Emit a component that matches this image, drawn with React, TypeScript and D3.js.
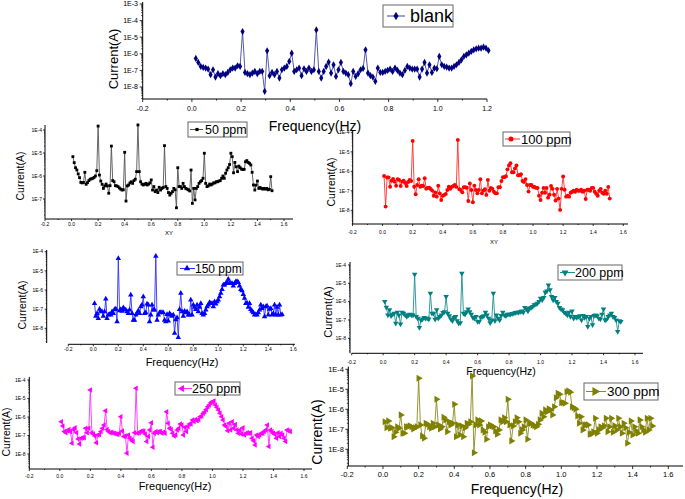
import React from "react";
import * as d3 from "d3";

const FONT = "'Liberation Sans', Arial, Helvetica, sans-serif";

// log10 of current (A), one point every 0.01 Hz
const blankFreqStart = 0.016;
const ppmFreqStart = 0.01;

const blankLogCurrent = [
  -6.28, -6.52, -6.76, -6.82, -6.86, -6.92, -7.26, -6.96, -7.4, -7.2,
  -7.32, -7.2, -7.26, -7.12, -6.96, -6.86, -6.86, -6.72, -6.76, -4.66,
  -7.12, -7.2, -7.26, -7.16, -7.06, -7.2, -7.06, -7.06, -8.26, -5.82,
  -7.32, -7.12, -7.26, -7.06, -7.46, -6.96, -6.86, -6.76, -6.46, -5.96,
  -7.06, -6.96, -6.86, -7.32, -6.9, -7.06, -6.86, -7.06, -6.96, -4.56,
  -7.06, -7.46, -7.06, -6.76, -6.5, -7.16, -6.66, -7.36, -6.96, -6.52,
  -7.06, -7.16, -7.26, -7.8, -7.06, -7.36, -7.2, -6.96, -6.88, -5.76,
  -7.16, -7.32, -7.4, -7.66, -6.86, -7.12, -7.12, -7.06, -7.0, -6.92,
  -7.06, -6.86, -7.0, -7.16, -7.26, -7.0, -6.76, -6.86, -6.92, -6.92,
  -6.92, -7.4, -6.92, -6.52, -7.16, -6.66, -7.12, -6.86, -6.9, -6.16,
  -6.66, -6.76, -6.8, -6.86, -6.86, -6.76, -6.66, -6.52, -6.36, -6.16,
  -6.06, -5.96, -5.86, -5.76, -5.7, -5.66, -5.66, -5.6, -5.66, -5.8,
];

const ppm50LogCurrent = [
  -5.16, -5.42, -5.64, -5.74, -5.91, -6.07, -6.28, -6.3, -6.28, -5.84,
  -6.36, -6.29, -6.2, -6.14, -6.12, -6.1, -6.06, -6.0, -5.77, -3.83,
  -5.96, -6.22, -6.36, -6.54, -6.43, -6.35, -6.43, -6.75, -6.42, -4.7,
  -6.2, -6.25, -6.42, -6.43, -6.46, -6.52, -6.57, -6.61, -6.6, -4.97,
  -7.09, -6.43, -6.39, -6.3, -6.25, -6.32, -6.2, -6.14, -5.81, -3.78,
  -5.81, -6.25, -6.35, -6.39, -6.36, -6.32, -6.39, -6.35, -6.3, -6.17,
  -6.61, -6.46, -6.68, -6.61, -6.72, -6.49, -6.61, -6.54, -6.5, -4.68,
  -6.46, -6.54, -6.72, -6.83, -6.75, -6.68, -6.54, -6.6, -7.38, -5.64,
  -6.46, -6.46, -6.54, -6.32, -6.46, -6.54, -6.57, -6.6, -6.65, -5.74,
  -7.19, -6.54, -7.04, -6.54, -6.46, -6.32, -6.25, -6.2, -6.1, -5.01,
  -6.32, -6.46, -6.43, -6.35, -6.39, -6.35, -6.3, -6.3, -6.25, -6.25,
  -6.22, -6.2, -6.1, -6.0, -6.1, -5.88, -5.74, -5.64, -5.5, -5.01,
  -5.16, -5.86, -5.41, -5.6, -5.81, -5.57, -5.64, -5.7, -5.72, -5.71,
  -5.38, -5.33, -5.41, -5.45, -5.52, -5.84, -6.39, -6.61, -6.4, -6.22,
  -6.54, -6.5, -6.54, -6.57, -6.54, -6.57, -6.54, -6.6, -6.58, -6.03,
  -6.64,
];

const ppm100LogCurrent = [
  -6.24, -7.81, -6.32, -6.31, -6.79, -6.48, -6.39, -6.53, -6.74, -6.41,
  -6.44, -6.75, -6.53, -6.48, -6.6, -6.75, -6.55, -6.45, -6.5, -4.44,
  -6.79, -7.18, -6.7, -6.41, -6.79, -6.74, -6.75, -6.36, -6.89, -6.86,
  -6.84, -6.91, -6.99, -7.25, -7.09, -7.3, -6.74, -7.13, -7.47, -7.25,
  -7.21, -7.16, -6.96, -6.79, -6.9, -6.8, -6.75, -6.7, -6.8, -4.39,
  -6.92, -6.96, -7.08, -6.82, -6.82, -6.84, -7.52, -6.62, -6.96, -7.59,
  -6.74, -6.96, -7.13, -6.96, -6.41, -7.13, -6.99, -6.92, -7.21, -6.44,
  -7.0, -6.85, -6.9, -7.05, -7.13, -7.13, -6.82, -6.82, -6.5, -6.3,
  -6.3, -6.25, -5.9, -5.7, -5.59, -6.05, -6.05, -5.85, -5.7, -6.2,
  -6.2, -6.15, -6.5, -6.55, -6.4, -6.7, -7.04, -6.7, -6.7, -6.8,
  -6.8, -6.85, -6.85, -7.25, -7.47, -7.1, -6.85, -7.1, -6.85, -7.35,
  -7.2, -6.75, -6.9, -7.2, -7.5, -6.9, -7.4, -7.98, -6.9, -6.27,
  -6.95, -7.3, -7.25, -7.3, -7.1, -7.05, -7.0, -7.05, -6.95, -7.0,
  -7.0, -6.95, -7.05, -7.0, -7.42, -6.95, -6.95, -7.0, -6.85, -6.85,
  -7.05, -7.15, -7.25, -7.0, -6.9, -7.1, -7.15, -7.0, -7.15, -6.8,
  -7.4,
];

const ppm150LogCurrent = [
  -6.7, -7.36, -7.22, -7.48, -7.0, -7.1, -7.13, -7.36, -7.13, -6.47,
  -7.48, -7.3, -7.27, -7.3, -7.13, -7.22, -7.01, -6.99, -7.65, -4.35,
  -7.08, -7.01, -7.1, -6.92, -7.01, -7.04, -7.13, -7.22, -7.04, -6.26,
  -7.22, -7.57, -7.57, -7.3, -7.22, -7.08, -7.22, -6.87, -6.78, -6.35,
  -7.22, -7.18, -6.73, -6.78, -7.65, -7.3, -6.78, -7.04, -7.04, -4.23,
  -7.57, -7.3, -7.18, -7.17, -7.17, -7.18, -7.57, -7.65, -7.27, -7.62,
  -7.22, -7.3, -7.36, -7.3, -8.26, -7.55, -7.45, -8.47, -7.01, -6.17,
  -7.13, -7.36, -7.1, -7.18, -7.13, -7.3, -7.3, -6.52, -7.3, -6.78,
  -6.9, -7.01, -6.78, -7.13, -6.9, -6.7, -7.22, -7.3, -7.22, -7.04,
  -6.87, -6.78, -6.65, -6.7, -6.7, -6.87, -6.61, -6.73, -6.61, -6.52,
  -6.35, -6.17, -5.97, -5.74, -5.74, -5.65, -5.6, -5.44, -5.65, -5.65,
  -5.65, -5.79, -5.65, -5.57, -5.55, -5.6, -5.79, -5.97, -6.03, -6.23,
  -6.43, -6.7, -6.67, -6.9, -6.7, -7.01, -7.1, -7.18, -7.3, -7.27,
  -7.3, -7.18, -7.04, -6.78, -6.96, -6.87, -7.39, -6.87, -6.83, -7.3,
  -7.0, -6.96, -7.3, -7.22, -6.78, -7.3, -6.9, -7.3, -6.78, -7.3,
  -7.27,
];

const ppm200LogCurrent = [
  -6.0, -6.31, -6.73, -6.45, -6.78, -6.69, -6.64, -7.18, -6.58, -6.73,
  -7.22, -6.58, -6.64, -6.73, -6.82, -6.73, -6.69, -6.73, -6.73, -4.51,
  -6.82, -6.91, -7.42, -7.0, -6.95, -6.87, -6.91, -6.91, -6.95, -5.55,
  -6.64, -6.64, -6.96, -6.45, -6.91, -6.82, -6.73, -6.6, -6.55, -5.73,
  -6.64, -6.78, -6.95, -7.05, -6.87, -6.82, -7.04, -7.18, -7.15, -4.45,
  -6.64, -6.69, -6.55, -6.4, -6.55, -6.69, -6.87, -6.91, -6.82, -7.09,
  -7.09, -6.87, -6.82, -6.78, -6.58, -6.73, -6.91, -7.15, -7.0, -5.55,
  -7.05, -6.73, -6.91, -7.0, -6.76, -6.58, -6.73, -6.78, -6.69, -6.69,
  -6.69, -6.65, -6.64, -6.6, -6.58, -6.58, -6.55, -6.51, -6.58, -6.33,
  -6.4, -6.51, -6.36, -6.33, -6.27, -6.18, -6.15, -6.09, -6.0, -5.82,
  -5.91, -5.78, -5.49, -5.42, -5.09, -5.36, -5.73, -5.91, -5.78, -6.0,
  -6.09, -6.33, -6.4, -6.45, -6.58, -6.64, -6.73, -6.58, -6.82, -6.51,
  -6.91, -6.82, -6.87, -6.82, -6.78, -7.0, -6.76, -6.87, -6.82, -7.36,
  -6.91, -6.82, -7.27, -6.76, -6.73, -6.78, -6.91, -6.95, -6.69, -6.4,
  -7.0, -6.96, -6.82, -6.73, -6.64, -6.82, -6.87, -7.0, -7.64, -7.04,
  -7.09,
];

const ppm250LogCurrent = [
  -6.25, -6.49, -6.79, -6.85, -6.74, -6.67, -6.79, -7.42, -6.67, -6.58,
  -6.85, -7.19, -7.46, -7.15, -7.12, -7.12, -6.61, -6.85, -6.61, -4.54,
  -6.85, -6.92, -7.03, -7.39, -6.97, -6.94, -6.79, -6.61, -6.43, -5.66,
  -6.67, -6.79, -6.85, -6.83, -6.88, -6.88, -6.92, -6.94, -6.88, -5.98,
  -6.76, -7.06, -7.03, -7.96, -6.97, -7.15, -7.24, -7.33, -6.85, -4.45,
  -6.88, -6.85, -6.79, -6.76, -6.76, -6.92, -7.33, -7.06, -6.7, -6.31,
  -7.64, -6.88, -6.79, -6.85, -6.79, -6.79, -6.88, -6.83, -6.88, -5.71,
  -6.34, -6.61, -6.67, -6.88, -7.03, -6.97, -6.7, -6.61, -6.38, -6.43,
  -6.97, -6.56, -6.79, -6.52, -6.38, -6.38, -6.16, -6.25, -6.13, -6.2,
  -6.13, -5.98, -5.95, -5.8, -5.71, -5.59, -5.44, -5.35, -5.23, -5.17,
  -5.14, -5.35, -5.48, -5.62, -5.8, -5.98, -6.16, -6.43, -6.52, -6.74,
  -6.34, -6.7, -6.25, -6.61, -6.4, -6.7, -6.88, -6.7, -6.92, -6.58,
  -6.97, -6.88, -6.85, -6.88, -6.85, -7.15, -7.28, -7.51, -6.97, -7.06,
  -6.97, -6.88, -6.88, -6.79, -6.7, -6.43, -7.6, -6.7, -6.79, -6.88,
  -6.94, -7.15, -6.85, -7.06, -6.88, -6.97, -7.15, -7.33, -6.7, -6.74,
  -6.79,
];

const ppm300LogCurrent = [
  -6.62, -6.92, -6.58, -6.95, -6.92, -7.37, -7.15, -6.87, -6.95, -6.28,
  -7.2, -7.2, -6.87, -6.87, -6.82, -6.87, -6.98, -6.92, -6.87, -4.45,
  -6.78, -7.33, -7.45, -6.7, -6.75, -6.87, -6.95, -6.7, -6.87, -5.5,
  -6.78, -6.98, -6.87, -6.4, -6.53, -7.12, -6.62, -6.78, -6.7, -5.75,
  -7.37, -6.78, -7.28, -6.83, -7.37, -6.92, -6.7, -6.75, -6.62, -4.33,
  -8.17, -6.78, -6.53, -6.78, -6.58, -7.03, -7.15, -7.5, -6.87, -6.78,
  -6.83, -6.87, -7.08, -7.25, -7.03, -6.53, -6.62, -6.42, -6.62, -5.5,
  -6.78, -7.58, -6.83, -6.62, -6.42, -6.62, -7.2, -7.03, -6.87, -6.53,
  -7.5, -6.7, -6.7, -6.78, -6.82, -6.87, -6.75, -6.53, -6.2, -6.37,
  -6.03, -6.12, -5.98, -6.03, -6.28, -5.87, -5.42, -5.2, -5.25, -5.67,
  -5.67, -5.7, -5.12, -5.08, -5.15, -5.87, -5.92, -6.0, -6.33, -6.7,
  -6.37, -7.03, -6.78, -6.78, -6.78, -7.25, -7.23, -7.12, -6.45, -7.2,
  -7.03, -6.87, -6.92, -6.82, -6.45, -7.12, -6.87, -6.45, -7.15, -6.82,
  -7.03, -6.45, -6.87, -7.2, -6.7, -6.92, -7.7, -7.15, -6.58, -7.28,
  -6.87, -7.08, -7.2, -6.53, -6.87, -7.03, -7.15, -6.45, -7.03, -6.45,
  -6.83,
];

type Marker = "diamond" | "square" | "circle" | "up" | "down" | "left" | "right";

interface PanelCfg {
  label: string;
  logCurrent: number[];
  freqStart: number;
  color: string;
  lineColor: string;
  marker: Marker;
  markerSize: number;
  xDomainMax: number;
  xPxMin: number;
  xPxMax: number;
  xAxisStart: number;
  xAxisEnd: number;
  xAxisY: number;
  yAxisX: number;
  yAxisTop: number;
  yAxisBottom: number;
  yHiExp: number;
  yHiPx: number;
  y8Px: number;
  tickFont: number;
  yTickRight: number;
  xTickBaseline: number;
  majorTick: number;
  minorTick: number;
  xTitle: string;
  xTitleX: number;
  xTitleY: number;
  xTitleSize: number;
  yTitleX: number;
  yTitleY: number;
  yTitleSize: number;
  lg: { x: number; y: number; w: number; h: number; font: number; lx1: number; lx2: number; mx: number; tx: number; ms: number };
}

const panels: PanelCfg[] = [
  {
    label: "blank", logCurrent: blankLogCurrent, freqStart: blankFreqStart,
    color: "#000080", lineColor: "#4646a0", marker: "diamond", markerSize: 15,
    xDomainMax: 1.2, xPxMin: 142.7, xPxMax: 487, xAxisStart: 142.7, xAxisEnd: 487, xAxisY: 99,
    yAxisX: 142.7, yAxisTop: 2, yAxisBottom: 99, yHiExp: -3, yHiPx: 4, y8Px: 87,
    tickFont: 7, yTickRight: 138, xTickBaseline: 110.5, majorTick: 3, minorTick: 1.5,
    xTitle: "Frequency(Hz)", xTitleX: 315, xTitleY: 131, xTitleSize: 14,
    yTitleX: 118, yTitleY: 59, yTitleSize: 13,
    lg: { x: 383, y: 5, w: 70, h: 22, font: 18, lx1: 387, lx2: 405, mx: 396, tx: 410, ms: 22 },
  },
  {
    label: "50 ppm", logCurrent: ppm50LogCurrent, freqStart: ppmFreqStart,
    color: "#000000", lineColor: "#555555", marker: "square", markerSize: 8,
    xDomainMax: 1.6, xPxMin: 45, xPxMax: 284, xAxisStart: 45, xAxisEnd: 293, xAxisY: 219,
    yAxisX: 45, yAxisTop: 125, yAxisBottom: 219, yHiExp: -4, yHiPx: 130, y8Px: 222,
    tickFont: 5, yTickRight: 42, xTickBaseline: 226, majorTick: 2, minorTick: 1,
    xTitle: "XY", xTitleX: 169, xTitleY: 235, xTitleSize: 6,
    yTitleX: 24, yTitleY: 176, yTitleSize: 10.5,
    lg: { x: 188, y: 122, w: 59, h: 15, font: 12.5, lx1: 190, lx2: 203, mx: 197, tx: 205, ms: 10 },
  },
  {
    label: "100 ppm", logCurrent: ppm100LogCurrent, freqStart: ppmFreqStart,
    color: "#ff0000", lineColor: "#ff3030", marker: "circle", markerSize: 12,
    xDomainMax: 1.6, xPxMin: 352.5, xPxMax: 623.3, xAxisStart: 352.5, xAxisEnd: 628, xAxisY: 224,
    yAxisX: 352.7, yAxisTop: 130, yAxisBottom: 224, yHiExp: -4, yHiPx: 132.3, y8Px: 210.3,
    tickFont: 5, yTickRight: 349.5, xTickBaseline: 234, majorTick: 2, minorTick: 1,
    xTitle: "XY", xTitleX: 494, xTitleY: 244, xTitleSize: 6,
    yTitleX: 335, yTitleY: 182, yTitleSize: 10.5,
    lg: { x: 503, y: 132, w: 67, h: 14, font: 13, lx1: 505, lx2: 520, mx: 511, tx: 521, ms: 20 },
  },
  {
    label: "150 ppm", logCurrent: ppm150LogCurrent, freqStart: ppmFreqStart,
    color: "#0000ff", lineColor: "#3030ff", marker: "up", markerSize: 13,
    xDomainMax: 1.6, xPxMin: 68.3, xPxMax: 293.3, xAxisStart: 68.3, xAxisEnd: 295, xAxisY: 344.3,
    yAxisX: 46.7, yAxisTop: 250, yAxisBottom: 343, yHiExp: -4, yHiPx: 251.7, y8Px: 328.3,
    tickFont: 5, yTickRight: 43, xTickBaseline: 351, majorTick: 2, minorTick: 1,
    xTitle: "Frequency(Hz)", xTitleX: 182, xTitleY: 366, xTitleSize: 11,
    yTitleX: 26, yTitleY: 305, yTitleSize: 10.5,
    lg: { x: 177, y: 262, w: 66, h: 13, font: 12, lx1: 180, lx2: 195, mx: 187, tx: 195, ms: 18 },
  },
  {
    label: "200 ppm", logCurrent: ppm200LogCurrent, freqStart: ppmFreqStart,
    color: "#008080", lineColor: "#209090", marker: "down", markerSize: 13,
    xDomainMax: 1.6, xPxMin: 351.7, xPxMax: 635, xAxisStart: 351.7, xAxisEnd: 643, xAxisY: 353.3,
    yAxisX: 350, yAxisTop: 262, yAxisBottom: 353.3, yHiExp: -4, yHiPx: 265, y8Px: 338.3,
    tickFont: 5, yTickRight: 346, xTickBaseline: 363.5, majorTick: 2, minorTick: 1,
    xTitle: "Frequency(Hz)", xTitleX: 501, xTitleY: 375, xTitleSize: 10.5,
    yTitleX: 332, yTitleY: 312, yTitleSize: 11,
    lg: { x: 558, y: 265, w: 64, h: 15, font: 12.5, lx1: 560, lx2: 575, mx: 565, tx: 575, ms: 20 },
  },
  {
    label: "250 ppm", logCurrent: ppm250LogCurrent, freqStart: ppmFreqStart,
    color: "#ff00ff", lineColor: "#ff30ff", marker: "left", markerSize: 13,
    xDomainMax: 1.6, xPxMin: 29.3, xPxMax: 304, xAxisStart: 29.3, xAxisEnd: 312, xAxisY: 469,
    yAxisX: 29.3, yAxisTop: 377, yAxisBottom: 469, yHiExp: -4, yHiPx: 380, y8Px: 454,
    tickFont: 5, yTickRight: 25.5, xTickBaseline: 478, majorTick: 2, minorTick: 1,
    xTitle: "Frequency(Hz)", xTitleX: 175, xTitleY: 490, xTitleSize: 11,
    yTitleX: 10, yTitleY: 432, yTitleSize: 10.5,
    lg: { x: 175, y: 382, w: 65, h: 13, font: 12.5, lx1: 178, lx2: 192, mx: 182, tx: 192, ms: 20 },
  },
  {
    label: "300 ppm", logCurrent: ppm300LogCurrent, freqStart: ppmFreqStart,
    color: "#808000", lineColor: "#8a8a20", marker: "right", markerSize: 22,
    xDomainMax: 1.6, xPxMin: 347.3, xPxMax: 668.3, xAxisStart: 347.3, xAxisEnd: 683, xAxisY: 466,
    yAxisX: 348.3, yAxisTop: 366.7, yAxisBottom: 466, yHiExp: -4, yHiPx: 369.3, y8Px: 449.3,
    tickFont: 7.5, yTickRight: 344, xTickBaseline: 477, majorTick: 3, minorTick: 1.5,
    xTitle: "Frequency(Hz)", xTitleX: 517, xTitleY: 494, xTitleSize: 14,
    yTitleX: 322, yTitleY: 432, yTitleSize: 14,
    lg: { x: 584, y: 383, w: 74, h: 17, font: 13.5, lx1: 586, lx2: 606, mx: 595, tx: 607, ms: 34 },
  },
];

function symbolPath(m: Marker, size: number): { d: string; rot: number } {
  const typeMap: Record<Marker, d3.SymbolType> = {
    diamond: d3.symbolDiamond,
    square: d3.symbolSquare,
    circle: d3.symbolCircle,
    up: d3.symbolTriangle,
    down: d3.symbolTriangle,
    left: d3.symbolTriangle,
    right: d3.symbolTriangle,
  };
  const rotMap: Record<Marker, number> = { diamond: 0, square: 0, circle: 0, up: 0, down: 180, left: -90, right: 90 };
  return { d: d3.symbol().type(typeMap[m]).size(size)() || "", rot: rotMap[m] };
}

function fmtX(v: number): string {
  return v.toFixed(1);
}

function Panel({ c }: { c: PanelCfg }) {
  const x = d3.scaleLinear().domain([-0.2, c.xDomainMax]).range([c.xPxMin, c.xPxMax]);
  const y = d3.scaleLog().domain([1e-8, Math.pow(10, c.yHiExp)]).range([c.y8Px, c.yHiPx]);
  const pts: [number, number][] = c.logCurrent.map((v, i) => [c.freqStart + i * 0.01, Math.pow(10, v)]);
  const line = d3.line<[number, number]>().x((d) => x(d[0])).y((d) => y(d[1]));
  const sym = symbolPath(c.marker, c.markerSize);
  const lsym = symbolPath(c.marker, c.lg.ms);

  const xMaxVal = x.invert(c.xAxisEnd);
  const kMax = Math.floor(xMaxVal / 0.2 + 1e-6);
  const majors = d3.range(-1, kMax + 1).map((k) => k * 0.2);
  const minors = d3.range(-1, kMax + 1).map((k) => k * 0.2 + 0.1).filter((v) => v <= xMaxVal);

  const lo = Math.log10(y.invert(c.yAxisBottom));
  const hi = Math.log10(y.invert(c.yAxisTop));
  const decades = d3.range(Math.ceil(lo - 1e-6), Math.floor(hi + 1e-6) + 1);
  const yMinors: number[] = [];
  for (let e = Math.floor(lo); e <= Math.floor(hi); e++) {
    for (let k = 2; k <= 9; k++) {
      const lv = e + Math.log10(k);
      if (lv > lo && lv < hi) yMinors.push(k * Math.pow(10, e));
    }
  }

  const cy = c.lg.y + c.lg.h / 2;

  return (
    <g>
      <line x1={c.yAxisX} x2={c.yAxisX} y1={c.yAxisTop} y2={c.yAxisBottom} stroke="#000" strokeWidth={1} />
      <line x1={c.xAxisStart} x2={c.xAxisEnd} y1={c.xAxisY} y2={c.xAxisY} stroke="#000" strokeWidth={1} />
      {majors.map((v) => (
        <g key={"xm" + v.toFixed(2)}>
          <line x1={x(v)} x2={x(v)} y1={c.xAxisY} y2={c.xAxisY + c.majorTick} stroke="#000" strokeWidth={0.8} />
          <text x={x(v)} y={c.xTickBaseline} fontSize={c.tickFont} textAnchor="middle" fontFamily={FONT} fill="#000">
            {fmtX(v)}
          </text>
        </g>
      ))}
      {minors.map((v) => (
        <line key={"xn" + v.toFixed(2)} x1={x(v)} x2={x(v)} y1={c.xAxisY} y2={c.xAxisY + c.minorTick} stroke="#000" strokeWidth={0.8} />
      ))}
      {decades.map((e) => (
        <g key={"yd" + e}>
          <line x1={c.yAxisX - c.majorTick} x2={c.yAxisX} y1={y(Math.pow(10, e))} y2={y(Math.pow(10, e))} stroke="#000" strokeWidth={0.8} />
          <text x={c.yTickRight} y={y(Math.pow(10, e))} dy="0.35em" fontSize={c.tickFont} textAnchor="end" fontFamily={FONT} fill="#000">
            {"1E" + e}
          </text>
        </g>
      ))}
      {yMinors.map((v, i) => (
        <line key={"ym" + i} x1={c.yAxisX - c.minorTick} x2={c.yAxisX} y1={y(v)} y2={y(v)} stroke="#000" strokeWidth={0.7} />
      ))}
      <text x={c.xTitleX} y={c.xTitleY} fontSize={c.xTitleSize} textAnchor="middle" fontFamily={FONT} fill="#000">
        {c.xTitle}
      </text>
      <text
        transform={`translate(${c.yTitleX},${c.yTitleY}) rotate(-90)`}
        fontSize={c.yTitleSize}
        textAnchor="middle"
        fontFamily={FONT}
        fill="#000"
      >
        Current(A)
      </text>
      <path d={line(pts) || ""} fill="none" stroke={c.lineColor} strokeWidth={0.9} />
      {pts.map((p, i) => (
        <path
          key={i}
          d={sym.d}
          transform={`translate(${x(p[0])},${y(p[1])}) rotate(${sym.rot})`}
          fill={c.color}
        />
      ))}
      <rect x={c.lg.x} y={c.lg.y} width={c.lg.w} height={c.lg.h} fill="#fff" stroke="#666" strokeWidth={1} />
      <line x1={c.lg.lx1} x2={c.lg.lx2} y1={cy} y2={cy} stroke={c.lineColor} strokeWidth={1} />
      <path d={lsym.d} transform={`translate(${c.lg.mx},${cy}) rotate(${lsym.rot})`} fill={c.color} />
      <text x={c.lg.tx} y={cy} dy="0.36em" fontSize={c.lg.font} fontFamily={FONT} fill="#000">
        {c.label}
      </text>
    </g>
  );
}

export default function App() {
  return (
    <svg
      width={685}
      height={499}
      viewBox="0 0 685 499"
      style={{ position: "absolute", left: 0, top: 0, background: "#fff" }}
    >
      <rect x={0} y={0} width={685} height={499} fill="#fff" />
      {panels.map((c) => (
        <Panel key={c.label} c={c} />
      ))}
    </svg>
  );
}
